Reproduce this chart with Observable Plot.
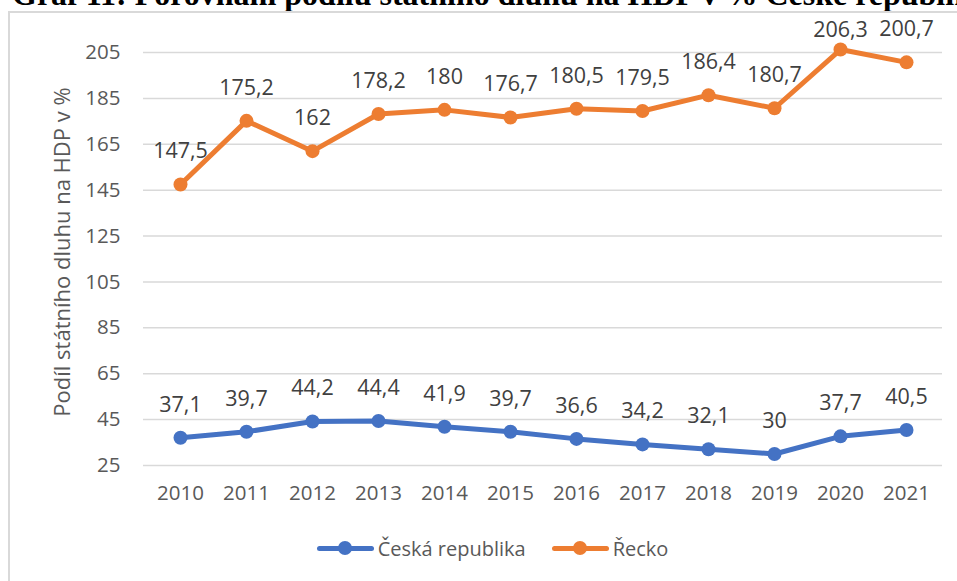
<!DOCTYPE html>
<html>
<head>
<meta charset="utf-8">
<script src="https://cdn.jsdelivr.net/npm/d3@7"></script>
<script src="https://cdn.jsdelivr.net/npm/@observablehq/plot@0.6"></script>
<style>
  html, body { margin: 0; padding: 0; background: #fff; overflow: hidden; }
  #wrap { position: relative; width: 957px; height: 581px; overflow: hidden; }
  #title { position: absolute; left: 12px; top: -22px; white-space: nowrap;
    font-family: "Liberation Serif", "Times New Roman", serif; font-weight: bold; font-size: 32px; line-height: 32px; color: #000; }
  #frame { position: absolute; left: 8px; top: 11px; width: 1000px; height: 700px; border-left: 2px solid #d9d9d9; border-top: 2px solid #d9d9d9; background: #fff; }
  #chart { position: absolute; left: 0; top: 0; }
  #ytitle { position: absolute; left: 61px; top: 252px; transform: translate(-50%, -50%) rotate(-90deg);
    white-space: nowrap; font-family: "Open Sans", sans-serif; font-size: 22px; color: #595959; }
  #legend { position: absolute; left: 0; width: 957px; top: 535px; height: 26px; display: flex; justify-content: center; align-items: center;
    font-family: "Open Sans", sans-serif; font-size: 20px; color: #595959; padding-left: 28px; box-sizing: border-box; }
  .item { display: flex; align-items: center; margin: 0 13px; }
  .sw { position: relative; width: 57px; height: 14px; margin-right: 4px; }
  .sw .ln { position: absolute; left: 0; right: 0; top: 5px; height: 5px; border-radius: 3px; }
  .sw .dt { position: absolute; left: 21px; top: 0px; width: 14px; height: 14px; border-radius: 50%; }
</style>
</head>
<body>
<div id="wrap">
  <div id="title">Graf 11: Porovnání podílu státního dluhu na HDP v % České republiky a Řecka</div>
  <div id="frame"></div>
  <div id="chart"></div>
  <div id="ytitle">Podíl státního dluhu na HDP v %</div>
  <div id="legend"></div>
</div>
<script>
const years = ["2010","2011","2012","2013","2014","2015","2016","2017","2018","2019","2020","2021"];
const czValues = [37.1, 39.7, 44.2, 44.4, 41.9, 39.7, 36.6, 34.2, 32.1, 30, 37.7, 40.5];
const grValues = [147.5, 175.2, 162, 178.2, 180, 176.7, 180.5, 179.5, 186.4, 180.7, 206.3, 200.7];
const yTicks = [25, 45, 65, 85, 105, 125, 145, 165, 185, 205];
const seriesNames = ["Česká republika", "Řecko"];
const seriesColors = ["#4472C4", "#ED7D31"];

const data = [];
years.forEach((yr, i) => {
  data.push({year: yr, value: czValues[i], series: seriesNames[0]});
  data.push({year: yr, value: grValues[i], series: seriesNames[1]});
});
const fmt = v => String(v).replace(".", ",");

// labels that would rise above the plot top are held at the top (as the original does)
const yMax = 205;
const topLabels = data.filter(d => d.value > yMax);
const normalLabels = data.filter(d => d.value <= yMax);

const chart = Plot.plot({
  width: 957,
  height: 520,
  marginTop: 52,
  marginBottom: 55,
  marginLeft: 143,
  marginRight: 15,
  style: { fontFamily: "'Open Sans', sans-serif", fontSize: "20px", background: "transparent", overflow: "visible" },
  x: { type: "point", domain: years, padding: 0.5, label: null },
  y: { domain: [25, yMax], label: null, clamp: false },
  color: { domain: seriesNames, range: seriesColors },
  marks: [
    Plot.ruleY(yTicks, { stroke: "#d9d9d9", strokeWidth: 1.5 }),
    Plot.axisY({ ticks: yTicks, tickSize: 0, tickPadding: 23, label: null, fill: "#595959", fontSize: 20.5 }),
    Plot.axisX({ tickSize: 0, tickPadding: 20, label: null, fill: "#595959", fontSize: 20.5 }),
    Plot.line(data, { x: "year", y: "value", z: "series", stroke: "series", strokeWidth: 5, strokeLinejoin: "round", strokeLinecap: "round" }),
    Plot.dot(data, { x: "year", y: "value", fill: "series", r: 7 }),
    Plot.text(normalLabels, { x: "year", y: "value", text: d => fmt(d.value), dy: -33, fill: "#404040", fontSize: 21.5 }),
    Plot.text(topLabels, { x: "year", frameAnchor: "top", lineAnchor: "middle", text: d => fmt(d.value), dy: -22, fill: "#404040", fontSize: 21.5 })
  ]
});
document.getElementById("chart").appendChild(chart);

const legend = document.getElementById("legend");
seriesNames.forEach((name, i) => {
  const item = document.createElement("div");
  item.className = "item";
  item.innerHTML = `<div class="sw"><div class="ln" style="background:${seriesColors[i]}"></div><div class="dt" style="background:${seriesColors[i]}"></div></div><span>${name}</span>`;
  legend.appendChild(item);
});
</script>
</body>
</html>
